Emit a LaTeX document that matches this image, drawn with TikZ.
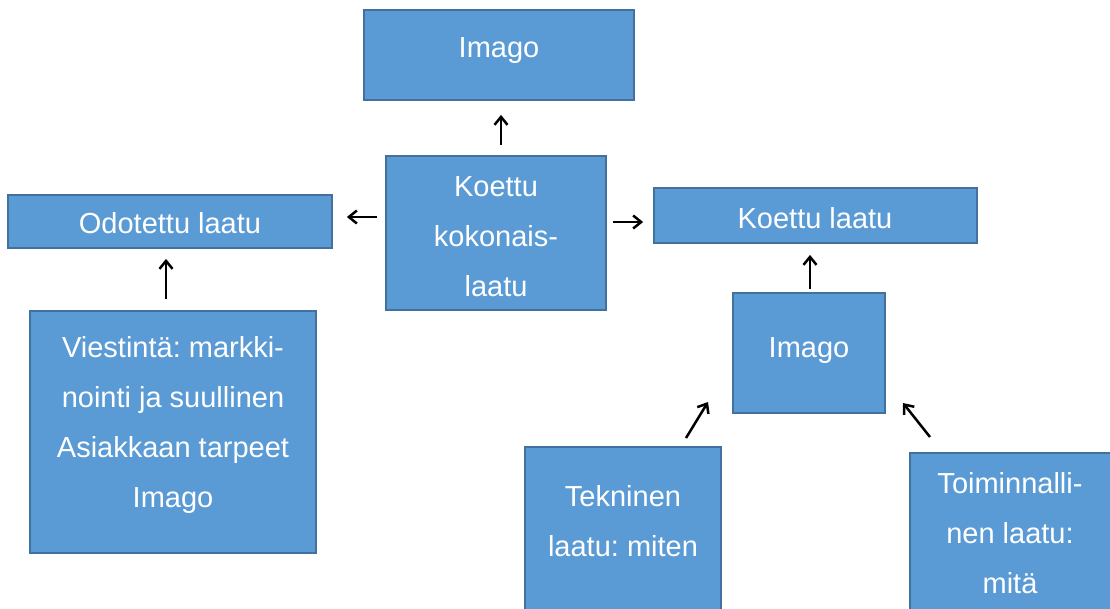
\documentclass[tikz,border=0pt]{standalone}
\usepackage{fontspec}
\setmainfont{Liberation Sans}
\usetikzlibrary{arrows.meta}
\frenchspacing
\definecolor{boxfill}{HTML}{5B9BD5}
\definecolor{boxline}{HTML}{41719C}
\tikzset{
  box/.style={draw=boxline, fill=boxfill, line width=1.8pt, rectangle, inner sep=0pt},
  txt/.style={text=white, align=center, inner sep=0pt, font=\fontsize{29}{50}\selectfont},
  arr/.style={-{Straight Barb[length=8pt,width=13pt]}, line width=2.5pt, black}
}
\begin{document}
\begin{tikzpicture}[x=1pt,y=-1pt]
\useasboundingbox (0,0) rectangle (1110,608);
\clip (0,0) rectangle (1110,608);

% boxes
\node[box, minimum width=270pt, minimum height=90pt]  (imagoA) at (499,55) {};
\node[box, minimum width=220pt, minimum height=154pt] (kok)    at (496,233) {};
\node[box, minimum width=324pt, minimum height=53pt]  (odo)    at (170,221.5) {};
\node[box, minimum width=323pt, minimum height=55pt]  (kl)     at (815.5,215.5) {};
\node[box, minimum width=152pt, minimum height=120pt] (imagoB) at (809,353) {};
\node[box, minimum width=286pt, minimum height=242pt] (viest)  at (173,432) {};
\node[box, minimum width=196pt, minimum height=166pt] (tek)    at (623,530) {};
\node[box, minimum width=204pt, minimum height=162pt] (toim)   at (1012,534) {};

% labels
\node[txt] (imagoA-t) at (499,51)  {Imago};
\node[txt] (kok-t)    at (496,237) {Koettu\\kokonais-\\laatu};
\node[txt] (odo-t)    at (170,223) {Odotettu laatu};
\node[txt] (kl-t)     at (815,218) {Koettu laatu};
\node[txt] (imagoB-t) at (809,351) {Imago};
\node[txt] (viest-t)  at (173,425) {Viestintä: markki-\\nointi ja suullinen\\Asiakkaan tarpeet\\Imago};
\node[txt] (tek-t)    at (623,521) {Tekninen\\laatu: miten};
\node[txt] (toim-t)   at (1010,533) {Toiminnalli-\\nen laatu:\\mitä};

% arrows
\draw[arr, shorten <=10pt, shorten >=14pt] (kok.north -| 501,0) -- (imagoA.south -| 501,0);
\draw[arr, shorten <=8pt, shorten >=14pt] (kok.west |- 0,217) -- (odo.east |- 0,217);
\draw[arr, shorten <=6pt, shorten >=10pt] (kok.east |- 0,222) -- (kl.west |- 0,222);
\draw[arr, shorten <=11pt, shorten >=10pt] (viest.north -| 166,0) -- (odo.south -| 166,0);
\draw[arr, shorten <=3pt, shorten >=11pt] (imagoB.north -| 810,0) -- (kl.south -| 810,0);
\coordinate (tekA) at (686,438);
\coordinate (tekB) at (708,402);
\coordinate (toimA) at (930,437);
\coordinate (toimB) at (903,403);
\draw[arr] (tekA) -- (tekB);
\draw[arr] (toimA) -- (toimB);
\end{tikzpicture}
\end{document}
